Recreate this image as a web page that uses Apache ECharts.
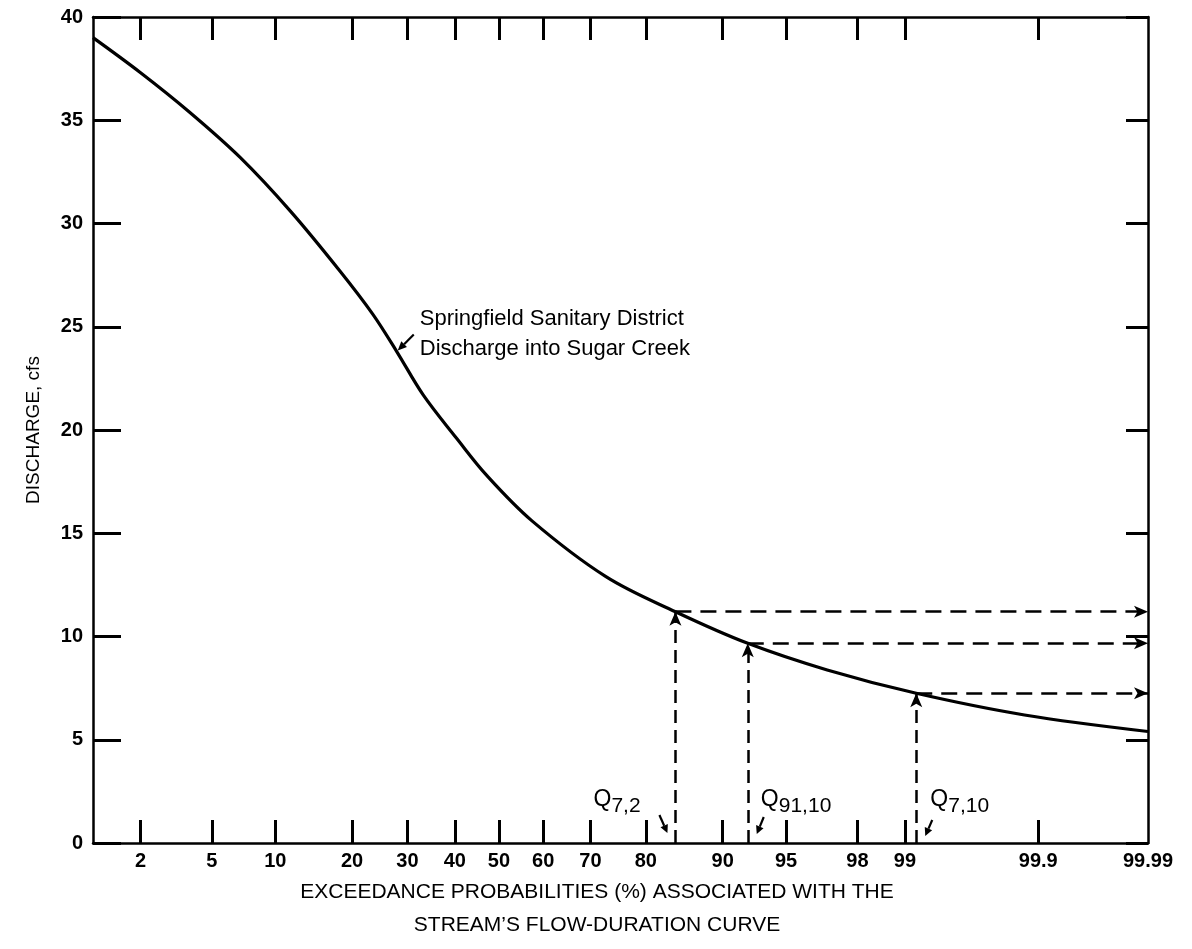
<!DOCTYPE html>
<html><head><meta charset="utf-8">
<script src="https://cdn.jsdelivr.net/npm/echarts@6/dist/echarts.min.js"></script>
<style>html,body{margin:0;padding:0;background:#fff}#c{width:1192px;height:949px}</style>
</head><body><div id="c"></div>
<script>
// ---- data ----
const exceedancePct = [1, 2, 3.8, 6.9, 11.6, 18.1, 23.5, 27.9, 33.2, 40.4, 47.2, 57.5, 73.0, 84.4, 92.3, 97.0, 99.16, 99.87, 99.99];
const dischargeCfs  = [39.0, 37.3, 35.4, 33.2, 30.6, 27.7, 25.6, 23.8, 21.7, 19.6, 17.8, 15.6, 12.9, 11.2, 9.67, 8.38, 7.25, 6.2, 5.4];
const tickPct  = [2, 5, 10, 20, 30, 40, 50, 60, 70, 80, 90, 95, 98, 99, 99.9];
const labelPct = [2, 5, 10, 20, 30, 40, 50, 60, 70, 80, 90, 95, 98, 99, 99.9, 99.99];
const axisMinPct = 1, axisMaxPct = 99.99;
const lowFlowNames = ['7,2', '91,10', '7,10'];
const lowFlowPct   = [84.4, 92.3, 99.16];
const lowFlowCfs   = [11.2, 9.67, 7.25];
const curveLabel = ['Springfield Sanitary District', 'Discharge into Sugar Creek'];
const curveLabelPointIndex = 7;
const xTitle = ['EXCEEDANCE PROBABILITIES (%) ASSOCIATED WITH THE', 'STREAM\u2019S FLOW-DURATION CURVE'];
const yTitle = 'DISCHARGE, cfs';

// inverse normal CDF (probability-paper scale)
function probit(p){
  const a=[-3.969683028665376e+01,2.209460984245205e+02,-2.759285104469687e+02,1.383577518672690e+02,-3.066479806614716e+01,2.506628277459239e+00];
  const b=[-5.447609879822406e+01,1.615858368580409e+02,-1.556989798598866e+02,6.680131188771972e+01,-1.328068155288572e+01];
  const c=[-7.784894002430293e-03,-3.223964580411365e-01,-2.400758277161838e+00,-2.549732539343734e+00,4.374664141464968e+00,2.938163982698783e+00];
  const d=[7.784695709041462e-03,3.224671290700398e-01,2.445134137142996e+00,3.754408661907416e+00];
  const pl=0.02425, ph=1-pl; let q,r;
  if(p<pl){q=Math.sqrt(-2*Math.log(p));return (((((c[0]*q+c[1])*q+c[2])*q+c[3])*q+c[4])*q+c[5])/((((d[0]*q+d[1])*q+d[2])*q+d[3])*q+1);}
  if(p<=ph){q=p-0.5;r=q*q;return (((((a[0]*r+a[1])*r+a[2])*r+a[3])*r+a[4])*r+a[5])*q/(((((b[0]*r+b[1])*r+b[2])*r+b[3])*r+b[4])*r+1);}
  q=Math.sqrt(-2*Math.log(1-p));return -(((((c[0]*q+c[1])*q+c[2])*q+c[3])*q+c[4])*q+c[5])/((((d[0]*q+d[1])*q+d[2])*q+d[3])*q+1);
}
const zp = pct => probit(pct/100);

const FONT = "'Liberation Sans', Arial, Helvetica, sans-serif";
const BLACK = '#000';
const chart = echarts.init(document.getElementById('c'), null, {renderer:'canvas'});

const labelZ = labelPct.map(zp);
function fmtX(v){
  let best=0, bd=1e9;
  labelZ.forEach((z,i)=>{const dd=Math.abs(z-v); if(dd<bd){bd=dd;best=i;}});
  return String(labelPct[best]);
}

const markData = [];
lowFlowPct.forEach((p,i)=>{
  const z = zp(p);
  markData.push([{coord:[z,0], lineStyle:{type:[13,7]}},{coord:[z,lowFlowCfs[i]]}]);
  markData.push([{coord:[z,lowFlowCfs[i]], lineStyle:{type:[16,9]}},{coord:[zp(axisMaxPct),lowFlowCfs[i]]}]);
});

const baseAxisLine = {show:true, onZero:false, lineStyle:{color:BLACK, width:2.5}};
const option = {
  backgroundColor:'#fff',
  animation:false,
  grid:{left:93, right:44, top:17, bottom:106, containLabel:false},
  xAxis:[
    {type:'value', position:'bottom', min:zp(axisMinPct), max:zp(axisMaxPct),
     axisLine:baseAxisLine,
     axisTick:{show:true, inside:true, length:23, customValues:tickPct.map(zp), lineStyle:{color:BLACK,width:3}},
     axisLabel:{show:true, customValues:labelZ, formatter:fmtX, color:BLACK, fontFamily:FONT, fontSize:20, fontWeight:'bold', margin:8, showMinLabel:true, showMaxLabel:true},
     splitLine:{show:false}},
    {type:'value', position:'top', min:zp(axisMinPct), max:zp(axisMaxPct),
     axisLine:baseAxisLine,
     axisTick:{show:true, inside:true, length:23, customValues:tickPct.map(zp), lineStyle:{color:BLACK,width:3}},
     axisLabel:{show:false}, splitLine:{show:false}}
  ],
  yAxis:[
    {type:'value', position:'left', min:0, max:40, interval:5,
     axisLine:baseAxisLine,
     axisTick:{show:true, inside:true, length:28, lineStyle:{color:BLACK,width:3}},
     axisLabel:{color:BLACK, fontFamily:FONT, fontSize:20, fontWeight:'bold', margin:10},
     splitLine:{show:false},
     name:yTitle, nameLocation:'middle', nameGap:50, nameRotate:90,
     nameTextStyle:{color:BLACK, fontFamily:FONT, fontSize:19}},
    {type:'value', position:'right', min:0, max:40, interval:5,
     axisLine:baseAxisLine,
     axisTick:{show:true, inside:true, length:22, lineStyle:{color:BLACK,width:3}},
     axisLabel:{show:false}, splitLine:{show:false}}
  ],
  series:[{
    type:'line', xAxisIndex:0, yAxisIndex:0,
    data: exceedancePct.map((p,i)=>[zp(p), dischargeCfs[i]]),
    smooth:0.35, symbol:'none',
    lineStyle:{color:BLACK, width:3.2},
    markLine:{
      silent:true, animation:false,
      symbol:['none','arrow'], symbolSize:[9,14],
      label:{show:false},
      lineStyle:{color:BLACK, width:2.5, type:'dashed'},
      emphasis:{disabled:true},
      data:markData
    }
  }]
};
chart.setOption(option);

// annotations, positioned from data coordinates
function arrowEls(x1,y1,x2,y2,head){
  const ang=Math.atan2(y2-y1,x2-x1), L=head||10, W=4;
  const bx=x2-L*Math.cos(ang), by=y2-L*Math.sin(ang);
  const px=-Math.sin(ang)*W, py=Math.cos(ang)*W;
  return [
    {type:'line', shape:{x1:x1,y1:y1,x2:bx,y2:by}, style:{stroke:BLACK, lineWidth:2.2}},
    {type:'polygon', shape:{points:[[x2,y2],[bx+px,by+py],[bx-px,by-py]]}, style:{fill:BLACK}}
  ];
}
const els=[];
const tip = chart.convertToPixel({xAxisIndex:0,yAxisIndex:0},[zp(exceedancePct[curveLabelPointIndex]), dischargeCfs[curveLabelPointIndex]]);
els.push(...arrowEls(tip[0]+17, tip[1]-17, tip[0]+1, tip[1]-1, 9));
curveLabel.forEach((t,i)=>{
  els.push({type:'text', x:tip[0]+23, y:tip[1]-44+i*30, style:{text:t, fill:BLACK, font:'22px '+FONT, textVerticalAlign:'top'}});
});
const qOffsets = [
  {tx:-82, ay:[-16,-28,-8,-10]},
  {tx:13,  ay:[16,-26,9,-9]},
  {tx:14,  ay:[16,-23,9,-7]}
];
lowFlowPct.forEach((p,i)=>{
  const b = chart.convertToPixel({xAxisIndex:0,yAxisIndex:0},[zp(p),0]);
  const o=qOffsets[i];
  els.push({type:'text', x:b[0]+o.tx, y:b[1]-55, style:{text:'Q', fill:BLACK, font:'23px '+FONT, textVerticalAlign:'top'}});
  els.push({type:'text', x:b[0]+o.tx+18, y:b[1]-47, style:{text:lowFlowNames[i], fill:BLACK, font:'21px '+FONT, textVerticalAlign:'top'}});
  els.push(...arrowEls(b[0]+o.ay[0], b[1]+o.ay[1], b[0]+o.ay[2], b[1]+o.ay[3], 8));
});
xTitle.forEach((t,i)=>{
  els.push({type:'text', x:597, y:882+i*33, style:{text:t, fill:BLACK, font:'21px '+FONT, textAlign:'center', textVerticalAlign:'top'}});
});
chart.setOption({graphic:{elements:els}});
</script>
</body></html>
